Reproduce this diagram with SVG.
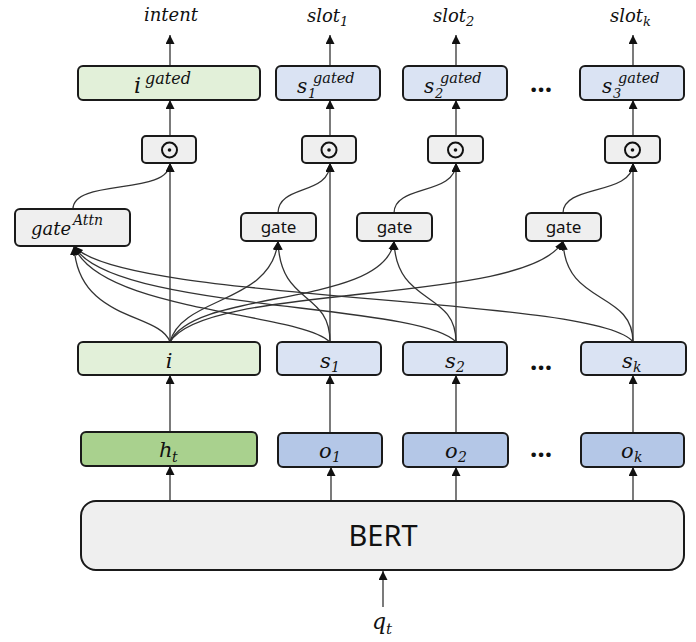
<svg xmlns="http://www.w3.org/2000/svg" width="696" height="642" viewBox="0 0 696 642">
<defs>
<marker id="ah" viewBox="0 0 10 10" refX="10" refY="5" markerWidth="9" markerHeight="9" markerUnits="userSpaceOnUse" orient="auto">
<path d="M0,0 L10,5 L0,10 z" fill="#111"/>
</marker>
<style>
.box{stroke:#1a1a1a;stroke-width:2}
.gi{fill:#e2f0d9}.gb{fill:#dae3f3}.dg{fill:#a9d18e}.db{fill:#b4c7e7}.gr{fill:#efefef}
.m{font-family:"DejaVu Serif",serif;font-style:italic;fill:#111}
.s{font-family:"Noto Sans","Open Sans",sans-serif;fill:#111}
.c path,.c line{fill:none;stroke:#333;stroke-width:1.3}
.a{marker-end:url(#ah)}
.dots{font-family:"Noto Sans",sans-serif;font-weight:bold;font-size:26px;fill:#111}
</style>
</defs>
<rect width="696" height="642" fill="#fff"/>

<g class="c" id="connectors">
<line class="a" x1="170" y1="66" x2="170" y2="35"/>
<line class="a" x1="330" y1="66" x2="330" y2="35"/>
<line class="a" x1="456" y1="66" x2="456" y2="35"/>
<line class="a" x1="633" y1="66" x2="633" y2="35"/>
<line class="a" x1="170" y1="136" x2="170" y2="100"/>
<line class="a" x1="330" y1="136" x2="330" y2="100"/>
<line class="a" x1="456" y1="136" x2="456" y2="100"/>
<line class="a" x1="633" y1="136" x2="633" y2="100"/>
<line class="a" x1="170" y1="342" x2="170" y2="163"/>
<line class="a" x1="330" y1="342" x2="330" y2="163"/>
<line class="a" x1="456" y1="342" x2="456" y2="163"/>
<line class="a" x1="633" y1="342" x2="633" y2="163"/>
<path class="a" d="M73,209 C73,178 170,196 170,163"/>
<path class="a" d="M278,213 C278,184 330,196 330,163"/>
<path class="a" d="M394,213 C394,184 456,196 456,163"/>
<path class="a" d="M563,213 C563,184 633,196 633,163"/>
<path class="a" d="M170,342 C160,312 78,322 74,246"/>
<path class="a" d="M330,342 C300,312 100,312 74,246"/>
<path class="a" d="M456,342 C420,302 110,312 74,246"/>
<path class="a" d="M633,342 C600,296 120,302 74,246"/>
<path class="a" d="M170,342 C182,296 272,304 278,241"/>
<path class="a" d="M170,342 C195,288 385,308 394,241"/>
<path class="a" d="M170,342 C205,282 530,306 563,241"/>
<path class="a" d="M330,342 C330,290 280,306 278,241"/>
<path class="a" d="M456,342 C456,290 396,306 394,241"/>
<path class="a" d="M633,342 C633,290 565,306 563,241"/>
<line class="a" x1="170" y1="432" x2="170" y2="375"/>
<line class="a" x1="330" y1="433" x2="330" y2="375"/>
<line class="a" x1="456" y1="433" x2="456" y2="375"/>
<line class="a" x1="633" y1="433" x2="633" y2="375"/>
<line class="a" x1="170" y1="501" x2="170" y2="466"/>
<line class="a" x1="331" y1="501" x2="331" y2="467"/>
<line class="a" x1="456" y1="501" x2="456" y2="467"/>
<line class="a" x1="633" y1="501" x2="633" y2="467"/>
<line class="a" x1="383" y1="607" x2="383" y2="571"/>
</g>

<g id="label-intent"><text class="m" x="171" y="21" font-size="18" text-anchor="middle">intent</text></g>
<g id="label-slot1"><text class="m" x="307" y="22" font-size="18">slot<tspan font-size="13" dy="4">1</tspan></text></g>
<g id="label-slot2"><text class="m" x="433" y="22" font-size="18">slot<tspan font-size="13" dy="4">2</tspan></text></g>
<g id="label-slotk"><text class="m" x="610" y="22" font-size="18">slot<tspan font-size="13" dy="4">k</tspan></text></g>

<g id="i-gated"><rect class="box gi" x="78" y="66" width="182" height="34" rx="5"/>
<text class="m" x="134" y="93" font-size="22">i</text><text class="m" x="145" y="84" font-size="16">gated</text></g>
<g id="s1-gated"><rect class="box gb" x="276" y="66" width="104" height="34" rx="5"/>
<text class="m" x="297" y="93" font-size="20">s</text><text class="m" x="308" y="98" font-size="13">1</text><text class="m" x="313" y="83" font-size="14.5">gated</text></g>
<g id="s2-gated"><rect class="box gb" x="403" y="66" width="104" height="34" rx="5"/>
<text class="m" x="424" y="93" font-size="20">s</text><text class="m" x="435" y="98" font-size="13">2</text><text class="m" x="440" y="83" font-size="14.5">gated</text></g>
<g id="s3-gated"><rect class="box gb" x="580" y="66" width="104" height="34" rx="5"/>
<text class="m" x="602" y="93" font-size="20">s</text><text class="m" x="613" y="98" font-size="13">3</text><text class="m" x="618" y="83" font-size="14.5">gated</text></g>
<text class="dots" x="530" y="92">…</text>

<g id="odot-i"><rect class="box gr" x="142" y="136" width="54" height="27" rx="4"/><circle cx="169.5" cy="150" r="7.5" fill="none" stroke="#111" stroke-width="2"/><circle cx="169.5" cy="150" r="1.8" fill="#111"/></g>
<g id="odot-s1"><rect class="box gr" x="302" y="136" width="54" height="27" rx="4"/><circle cx="329" cy="150" r="7.5" fill="none" stroke="#111" stroke-width="2"/><circle cx="329" cy="150" r="1.8" fill="#111"/></g>
<g id="odot-s2"><rect class="box gr" x="428" y="136" width="55" height="27" rx="4"/><circle cx="455.5" cy="150" r="7.5" fill="none" stroke="#111" stroke-width="2"/><circle cx="455.5" cy="150" r="1.8" fill="#111"/></g>
<g id="odot-sk"><rect class="box gr" x="605" y="136" width="55" height="27" rx="4"/><circle cx="632.5" cy="150" r="7.5" fill="none" stroke="#111" stroke-width="2"/><circle cx="632.5" cy="150" r="1.8" fill="#111"/></g>

<g id="gate-attn"><rect class="box gr" x="15" y="209" width="115" height="37" rx="5"/>
<text class="m" x="31" y="235" font-size="18">gate</text><text class="m" x="73" y="225" font-size="14">Attn</text></g>
<g id="gate-s1"><rect class="box gr" x="241" y="213" width="75" height="28" rx="5"/><text class="s" x="278.5" y="233" font-size="17" text-anchor="middle">gate</text></g>
<g id="gate-s2"><rect class="box gr" x="357" y="213" width="75" height="28" rx="5"/><text class="s" x="394.5" y="233" font-size="17" text-anchor="middle">gate</text></g>
<g id="gate-sk"><rect class="box gr" x="526" y="213" width="75" height="28" rx="5"/><text class="s" x="563.5" y="233" font-size="17" text-anchor="middle">gate</text></g>

<g id="i"><rect class="box gi" x="78" y="342" width="182" height="33" rx="5"/><text class="m" x="169" y="368" font-size="21" text-anchor="middle">i</text></g>
<g id="s1"><rect class="box gb" x="277" y="342" width="104" height="33" rx="5"/><text class="m" x="320" y="368" font-size="21">s</text><text class="m" x="331" y="372" font-size="14">1</text></g>
<g id="s2"><rect class="box gb" x="403" y="342" width="104" height="33" rx="5"/><text class="m" x="445" y="368" font-size="21">s</text><text class="m" x="456" y="372" font-size="14">2</text></g>
<g id="sk"><rect class="box gb" x="581" y="342" width="105" height="33" rx="5"/><text class="m" x="622" y="368" font-size="21">s</text><text class="m" x="633" y="372" font-size="14">k</text></g>
<text class="dots" x="530" y="370">…</text>

<g id="h-t"><rect class="box dg" x="81" y="432" width="176" height="34" rx="5"/><text class="m" x="159" y="457" font-size="21">h</text><text class="m" x="172" y="462" font-size="14">t</text></g>
<g id="o1"><rect class="box db" x="278" y="433" width="104" height="34" rx="5"/><text class="m" x="319" y="458" font-size="21">o</text><text class="m" x="332" y="462" font-size="14">1</text></g>
<g id="o2"><rect class="box db" x="403" y="433" width="105" height="34" rx="5"/><text class="m" x="445" y="458" font-size="21">o</text><text class="m" x="458" y="462" font-size="14">2</text></g>
<g id="ok"><rect class="box db" x="581" y="433" width="103" height="34" rx="5"/><text class="m" x="621" y="458" font-size="21">o</text><text class="m" x="634" y="462" font-size="14">k</text></g>
<text class="dots" x="530" y="457">…</text>

<g id="bert"><rect class="box gr" x="81" y="501" width="603" height="69" rx="15"/><text class="s" x="383" y="546" font-size="29" text-anchor="middle">BERT</text></g>
<g id="q-t"><text class="m" x="372" y="629" font-size="22">q</text><text class="m" x="386" y="634" font-size="15">t</text></g>
</svg>
